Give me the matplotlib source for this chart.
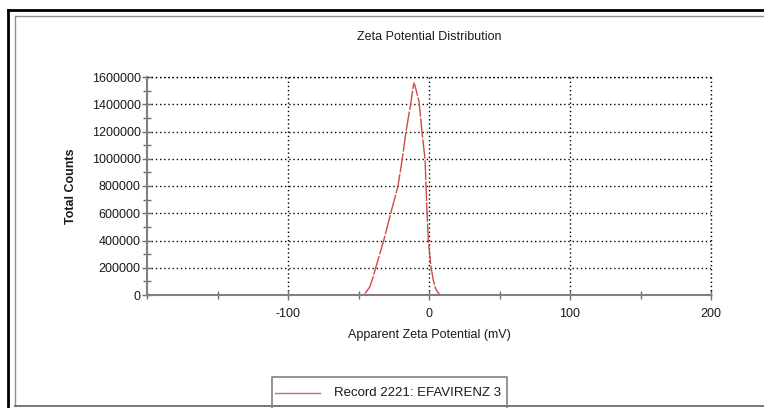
import matplotlib.pyplot as plt
from matplotlib.lines import Line2D
from matplotlib.ticker import MultipleLocator, FuncFormatter

plt.rcParams['font.family'] = ['Liberation Sans', 'DejaVu Sans']
plt.rcParams['axes.unicode_minus'] = False

# Zeta potential distribution, record 2221
zeta_mv = [-150, -47.5, -45, -42, -40, -37.6, -32, -27, -22, -19, -16.3, -12.8,
           -11.5, -10.6, -9.5, -7, -5, -2.8, -1.4, -0.5, 1.4, 3, 5, 7, 8.5, 150]
total_counts = [0, 0, 15000, 60000, 120000, 206000, 405000, 605000, 800000,
                995000, 1200000, 1415000, 1510000, 1556000, 1520000, 1415000,
                1200000, 995000, 605000, 405000, 206000, 110000, 40000, 8000,
                0, 0]

title = 'Zeta Potential Distribution'
xlabel = 'Apparent Zeta Potential (mV)'
ylabel = 'Total Counts'
record = 'Record 2221: EFAVIRENZ 3'

W, H = 764, 408
fig = plt.figure(figsize=(W / 100, H / 100), dpi=100)

# frame around the report
fig.add_artist(Line2D([8 / W, 1], [1 - 10 / H, 1 - 10 / H], color='black', lw=2))
fig.add_artist(Line2D([8 / W, 8 / W], [0, 1 - 10 / H], color='black', lw=2))
fig.add_artist(Line2D([15 / W, 1], [1 - 16 / H, 1 - 16 / H], color='#909090', lw=1))
fig.add_artist(Line2D([15 / W, 15 / W], [1 - 406 / H, 1 - 16 / H], color='#909090', lw=1))
fig.add_artist(Line2D([15 / W, 1], [1 - 406 / H, 1 - 406 / H], color='#606060', lw=1.2))

ax_l, ax_r, ax_t, ax_b = 147, 711, 77, 295
ax = fig.add_axes([ax_l / W, 1 - ax_b / H, (ax_r - ax_l) / W, (ax_b - ax_t) / H])

ax.plot(zeta_mv, total_counts, color='#d04848', lw=1.0, ls=(0, (14, 1.2)))

ax.set_xlim(-200, 200)
ax.set_ylim(0, 1600000)
ax.xaxis.set_major_locator(MultipleLocator(100))
ax.xaxis.set_minor_locator(MultipleLocator(50))
ax.yaxis.set_major_locator(MultipleLocator(200000))
ax.yaxis.set_minor_locator(MultipleLocator(100000))
ax.set_xticks([-100, 0, 100, 200])
ax.yaxis.set_major_formatter(FuncFormatter(lambda v, p: f'{int(v)}'))

for s in ['top', 'right']:
    ax.spines[s].set_visible(False)
for s in ['left', 'bottom']:
    ax.spines[s].set_color('#808080')
    ax.spines[s].set_linewidth(1.5)

ax.tick_params(which='both', direction='inout', color='#707070', width=1,
               labelsize=9, labelcolor='#1a1a1a', pad=1)
ax.tick_params(which='major', length=7)
ax.tick_params(which='minor', length=6)
ax.tick_params(axis='x', pad=6)

ax.grid(True, which='major', color='black', ls=(0, (1, 2)), lw=1.0)
ax.axhline(1600000, color='black', ls=(0, (1, 2)), lw=1.0, clip_on=False)
ax.axvline(200, color='black', ls=(0, (1, 2)), lw=1.0, clip_on=False)

ax.set_xlabel(xlabel, fontsize=9, color='#1a1a1a', labelpad=6)
ax.set_ylabel(ylabel, fontsize=9, color='#1a1a1a', fontweight='bold')
ax.yaxis.set_label_coords((77 - ax_l) / (ax_r - ax_l), 0.5)
fig.text(429 / W, 1 - 37 / H, title, ha='center', va='center',
         fontsize=9, color='#1a1a1a')

# legend box at the bottom of the report
lx0, lx1, ly0 = 272, 507, 377
fig.add_artist(Line2D([lx0 / W, lx0 / W, lx1 / W, lx1 / W],
                      [0, 1 - ly0 / H, 1 - ly0 / H, 0], color='#808080', lw=1.2))
fig.add_artist(Line2D([275 / W, 320 / W], [1 - 393 / H, 1 - 393 / H],
                      color='#c07070', lw=1.0))
fig.text(334 / W, 1 - 393 / H, record, ha='left', va='center', fontsize=9.5,
         color='#1a1a1a')

fig.savefig('out.png', dpi=100)
